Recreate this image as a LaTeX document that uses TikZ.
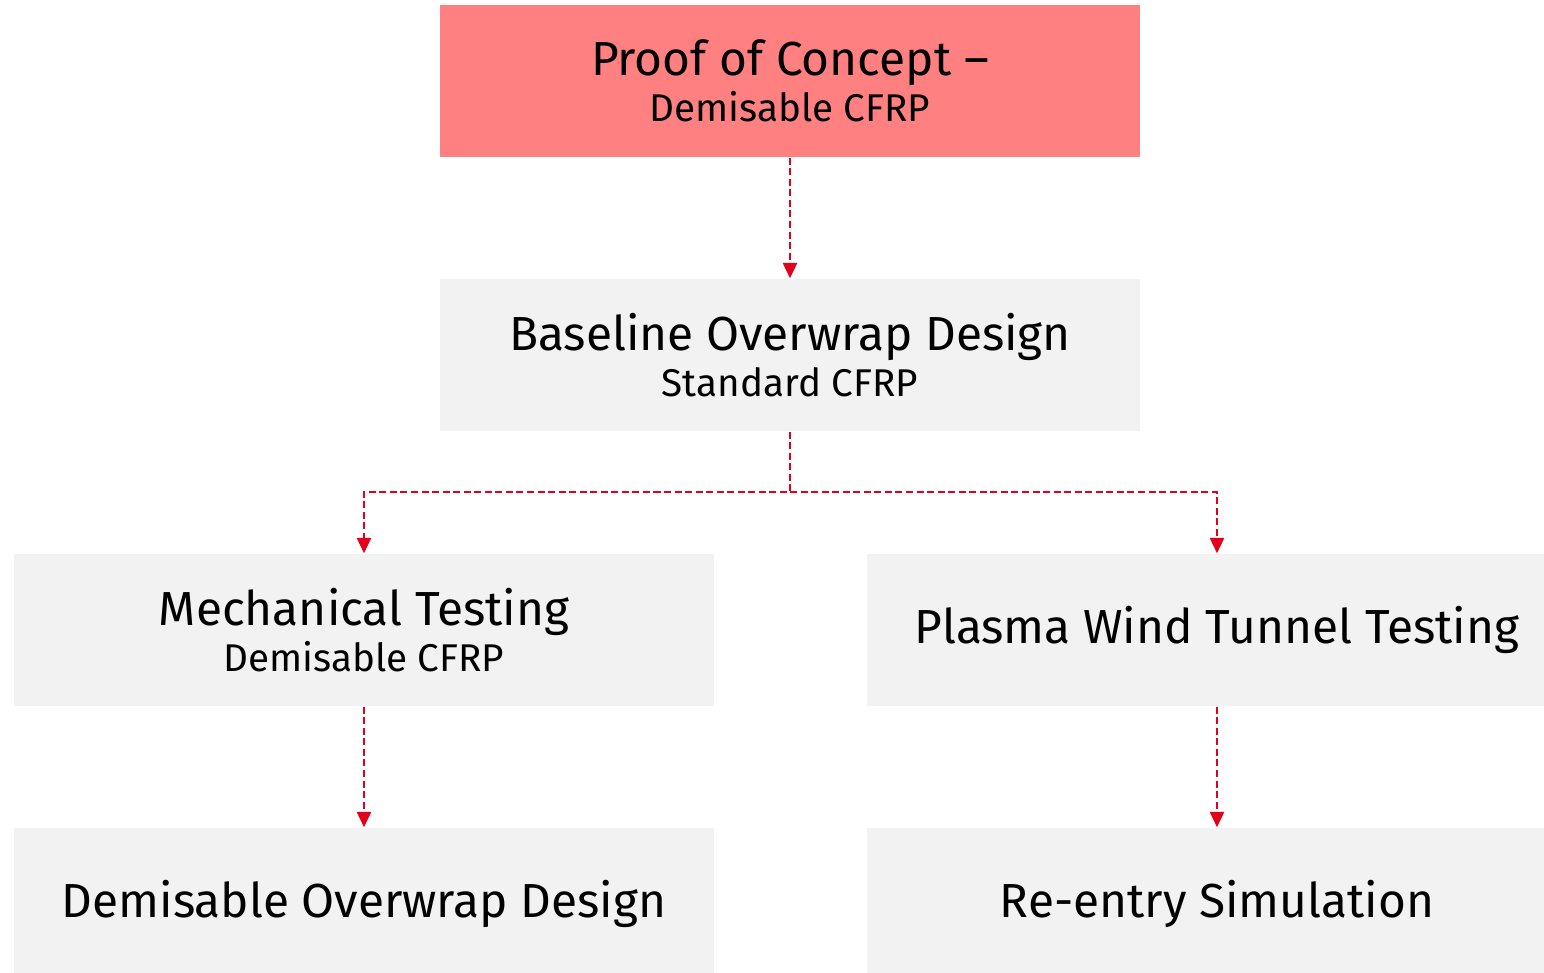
\documentclass[tikz,border=0pt]{standalone}
\usepackage{fontspec}
\setmainfont{Fira Sans}
\usepackage{tikz}
\usetikzlibrary{arrows.meta,positioning,calc}

\definecolor{pocred}{HTML}{FF8080}
\definecolor{boxgray}{HTML}{F2F2F2}
\definecolor{linkred}{HTML}{E2001A}

\begin{document}
\begin{tikzpicture}[
            stage/.style={
                fill=boxgray,
                minimum width=7cm,
                minimum height=1.52cm,
                inner sep=0pt,
                align=center,
                font=\fontsize{13.6}{14}\selectfont
            },
            concept/.style={
                stage,
                fill=pocred
            },
            link/.style={
                draw=linkred,
                line width=0.7pt,
                dash pattern=on 2pt off 1pt,
                -{Triangle[width=4pt,length=4.4pt]}
            }
        ]

            % Frame of the picture
            \useasboundingbox (0,0) rectangle (15.44,-9.73);
            \clip (0,0) rectangle (15.44,-9.73);

            % Layout parameters
            \def\xMid{7.90}
            \def\xLeft{3.64}
            \def\xRight{12.17}
            \def\yBranch{-4.92}

            % Stages
            \node[concept] (poc) at (\xMid, -0.81)
                {Proof of Concept --\\[-1pt]{\fontsize{11}{14}\selectfont Demisable CFRP}};
            \node[stage] (baseline) at (\xMid, -3.55)
                {Baseline Overwrap Design\\[-1pt]{\fontsize{11}{14}\selectfont Standard CFRP}};
            \node[stage] (mech) at (\xLeft, -6.30)
                {Mechanical Testing\\[-1pt]{\fontsize{11}{14}\selectfont Demisable CFRP}};
            \node[stage] (plasma) at (\xRight, -6.30) {Plasma Wind Tunnel Testing};
            \node[stage] (demis) at (\xLeft, -9.04) {Demisable Overwrap Design};
            \node[stage] (reentry) at (\xRight, -9.04) {Re-entry Simulation};

            % Branch point below the baseline
            \coordinate (split) at (\xMid, \yBranch);

            % Links
            \draw[link] (poc) -- (baseline);
            \draw[link] (baseline.south) -- (split) -| (mech.north);
            \draw[link] (split) -| (plasma.north);
            \draw[link] (mech) -- (demis);
            \draw[link] (plasma) -- (reentry);

        \end{tikzpicture}
\end{document}
